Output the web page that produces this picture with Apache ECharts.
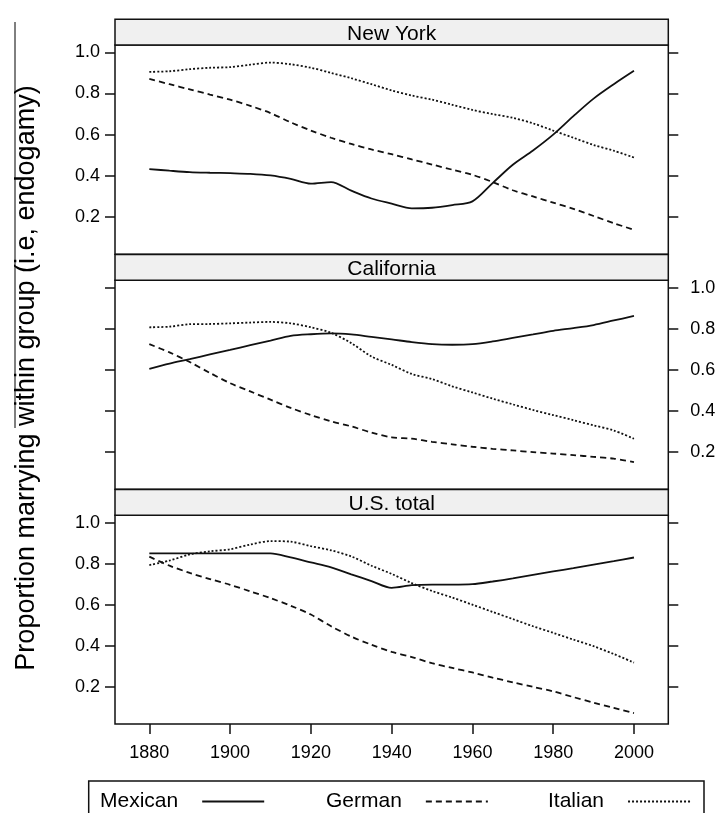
<!DOCTYPE html>
<html><head><meta charset="utf-8">
<script src="https://cdn.jsdelivr.net/npm/echarts@6/dist/echarts.min.js"></script>
<style>html,body{margin:0;padding:0;background:#fff}#c{width:720px;height:813px}</style>
</head><body><div id="c"></div>
<script>
const years = [1880,1885,1890,1895,1900,1905,1910,1915,1920,1925,1930,1935,1940,1945,1950,1955,1960,1965,1970,1975,1980,1985,1990,1995,2000];

const nyMexican = [0.433,0.425,0.418,0.415,0.413,0.410,0.402,0.385,0.362,0.370,0.328,0.290,0.265,0.242,0.245,0.258,0.276,0.365,0.454,0.523,0.600,0.690,0.775,0.845,0.910];
const nyGerman  = [0.871,0.845,0.820,0.795,0.770,0.740,0.705,0.660,0.620,0.585,0.555,0.528,0.505,0.480,0.455,0.430,0.405,0.370,0.330,0.300,0.270,0.240,0.205,0.170,0.138];
const nyItalian = [0.905,0.908,0.918,0.925,0.928,0.940,0.950,0.942,0.925,0.900,0.874,0.845,0.815,0.790,0.770,0.745,0.720,0.700,0.682,0.655,0.620,0.585,0.550,0.522,0.489];

const caMexican = [0.605,0.630,0.652,0.675,0.697,0.720,0.742,0.765,0.773,0.777,0.772,0.760,0.748,0.735,0.725,0.722,0.725,0.738,0.755,0.772,0.790,0.803,0.818,0.840,0.862];
const caGerman  = [0.725,0.685,0.638,0.585,0.535,0.495,0.455,0.415,0.380,0.350,0.325,0.295,0.272,0.265,0.250,0.238,0.226,0.216,0.208,0.200,0.193,0.185,0.177,0.168,0.151];
const caItalian = [0.807,0.810,0.822,0.823,0.826,0.830,0.833,0.826,0.807,0.780,0.730,0.665,0.624,0.580,0.555,0.520,0.490,0.460,0.432,0.405,0.380,0.355,0.330,0.305,0.265];

const usMexican = [0.850,0.850,0.850,0.850,0.850,0.850,0.850,0.830,0.806,0.782,0.748,0.715,0.682,0.695,0.698,0.698,0.700,0.713,0.728,0.745,0.762,0.778,0.795,0.812,0.830];
const usGerman  = [0.834,0.790,0.755,0.725,0.697,0.665,0.632,0.595,0.552,0.495,0.445,0.405,0.370,0.345,0.315,0.292,0.270,0.245,0.222,0.200,0.178,0.150,0.123,0.098,0.072];
const usItalian = [0.793,0.815,0.845,0.860,0.870,0.893,0.910,0.907,0.885,0.865,0.835,0.790,0.750,0.705,0.667,0.635,0.600,0.565,0.530,0.495,0.463,0.430,0.398,0.360,0.318];

const panelNames = ['New York','California','U.S. total'];
const seriesNames = ['Mexican','German','Italian'];
const panelData = [[nyMexican,nyGerman,nyItalian],[caMexican,caGerman,caItalian],[usMexican,usGerman,usItalian]];
const xTicks = [1880,1900,1920,1940,1960,1980,2000];
const yTicks = [0.2,0.4,0.6,0.8,1.0];
const yTitle = 'Proportion marrying within group (i.e, endogamy)';

const FONT = '"Liberation Sans", Arial, Helvetica, sans-serif';
const INK = '#111';
const L = 115, W = 553.3;
const panels = [{top:45,h:209.3},{top:280.3,h:209},{top:515.3,h:208.7}];
const stripH = 25.8;
const X_MIN = 1871.5, X_MAX = 2008.5, Y_MIN = 0.019, Y_MAX = 1.0355;
const dashTypes = ['solid',[6,4],[2,2]];

const grid = panels.map(p => ({left:L, top:p.top, width:W, height:p.h, show:true, borderColor:INK, borderWidth:1.5, backgroundColor:'transparent'}));

const xAxis = [];
const yAxis = [];
panels.forEach((p,i) => {
  xAxis.push({
    type:'value', gridIndex:i, position:'bottom', min:X_MIN, max:X_MAX,
    axisLine:{show:false}, splitLine:{show:false},
    axisTick:{show:i===2, customValues:xTicks, length:10, lineStyle:{color:INK,width:1.5}},
    axisLabel:{show:i===2, customValues:xTicks, margin:20, fontSize:18, fontFamily:FONT, color:'#000', formatter:v=>String(v)}
  });
  yAxis.push({
    type:'value', gridIndex:i, position:'left', min:Y_MIN, max:Y_MAX,
    axisLine:{show:false}, splitLine:{show:false},
    axisTick:{show:true, customValues:yTicks, length:10, lineStyle:{color:INK,width:1.5}},
    axisLabel:{show:i!==1, customValues:yTicks, margin:15, fontSize:18, fontFamily:FONT, color:'#000', formatter:v=>v.toFixed(1)}
  });
  yAxis.push({
    type:'value', gridIndex:i, position:'right', min:Y_MIN, max:Y_MAX,
    axisLine:{show:false}, splitLine:{show:false},
    axisTick:{show:true, customValues:yTicks, length:10, lineStyle:{color:INK,width:1.5}},
    axisLabel:{show:i===1, customValues:yTicks, margin:22, fontSize:18, fontFamily:FONT, color:'#000', formatter:v=>v.toFixed(1)}
  });
});
// top ticks of the first panel
xAxis.push({
  type:'value', gridIndex:0, position:'top', min:X_MIN, max:X_MAX,
  axisLine:{show:false}, splitLine:{show:false},
  axisTick:{show:true, customValues:xTicks, length:10, lineStyle:{color:INK,width:1.5}},
  axisLabel:{show:false}
});

const series = [];
panelData.forEach((arrs,i) => {
  arrs.forEach((arr,k) => {
    series.push({
      type:'line', name:seriesNames[k], xAxisIndex:i, yAxisIndex:2*i,
      data: years.map((yr,j)=>[yr, arr[j]]),
      symbol:'none', smooth:0.3, silent:true, animation:false,
      lineStyle:{color:INK, width:1.8, type:dashTypes[k]},
      itemStyle:{color:INK}
    });
  });
});

const legendLeft = [100, 326, 548];
const legend = seriesNames.map((n,k) => ({
  data:[n], left:legendLeft[k], top:791, padding:0, align:'right', orient:'horizontal',
  itemWidth:62, itemHeight:14, selectedMode:false,
  itemStyle:{opacity:0},
  textStyle:{fontSize:21, fontFamily:FONT, color:'#000', padding:[0,19,0,0]}
}));

const graphic = [];
panels.forEach((p,i) => {
  graphic.push({type:'rect', shape:{x:L, y:p.top-stripH, width:W, height:stripH}, style:{fill:'#f0f0f0', stroke:INK, lineWidth:1.5}, z:10});
  graphic.push({type:'text', x:L+W/2, y:p.top-stripH/2+2, style:{text:panelNames[i], font:'21px '+FONT, fill:'#000', textAlign:'center', textVerticalAlign:'middle'}, z:11});
});
graphic.push({type:'text', x:27, y:378, rotation:Math.PI/2, style:{text:yTitle, font:'27px '+FONT, fill:'#000', textAlign:'center', textVerticalAlign:'middle'}});
graphic.push({type:'line', shape:{x1:15,y1:22,x2:15,y2:428}, style:{stroke:'#000', lineWidth:1}});
graphic.push({type:'rect', shape:{x:88.7, y:781, width:615.3, height:60}, style:{fill:'none', stroke:INK, lineWidth:1.5}});

const chart = echarts.init(document.getElementById('c'), null, {renderer:'canvas'});
chart.setOption({animation:false, backgroundColor:'#fff', grid, xAxis, yAxis, series, legend, graphic});
</script></body></html>
